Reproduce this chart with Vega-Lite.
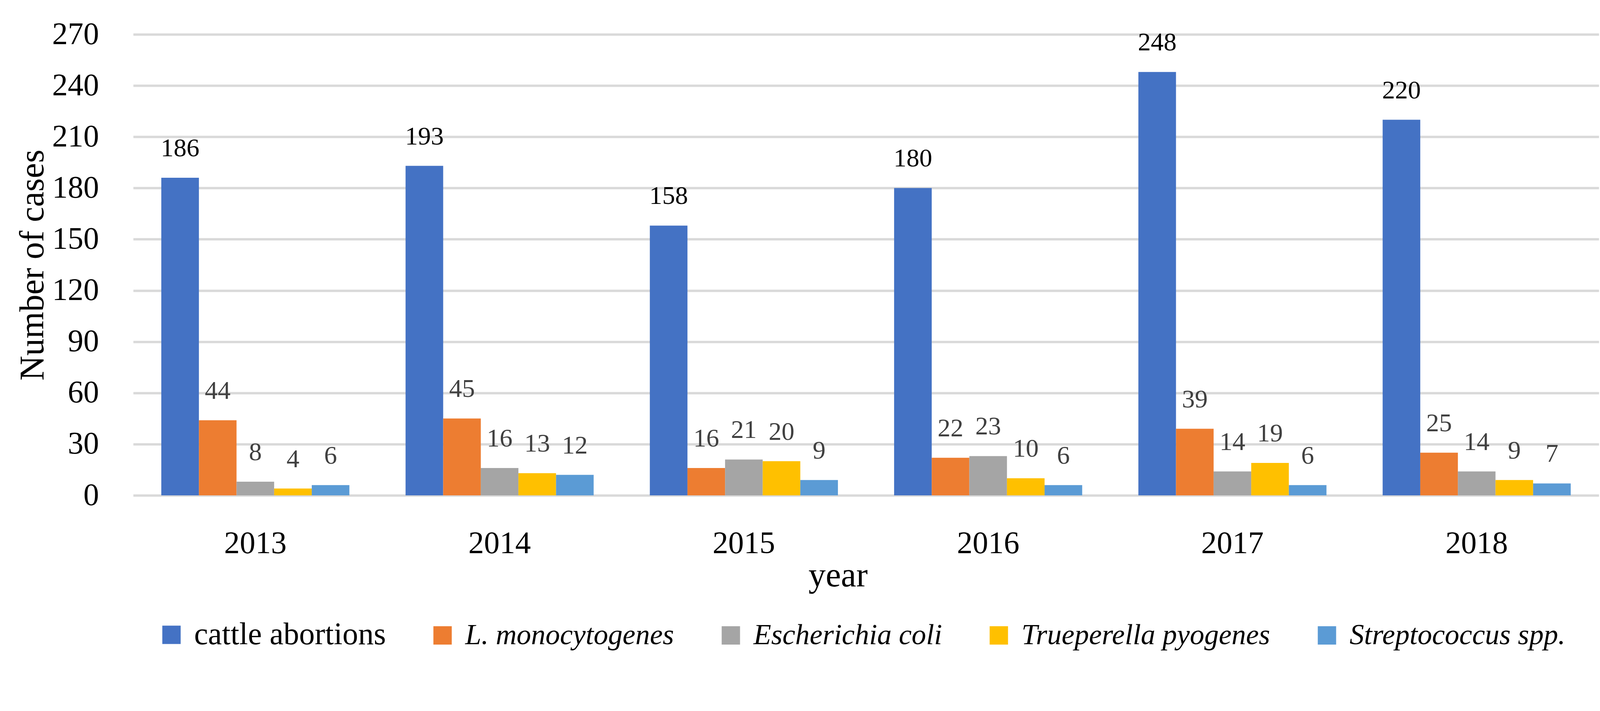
{
  "$schema": "https://vega.github.io/schema/vega-lite/v6.json",
  "autosize": {"type": "none"},
  "width": 3752,
  "height": 1180,
  "padding": {"left": 341, "top": 88, "right": 111, "bottom": 552},
  "background": "white",
  "config": {
    "view": {"stroke": null},
    "font": "Liberation Serif",
    "axis": {"labelFont": "Liberation Serif", "titleFont": "Liberation Serif", "labelColor": "black", "titleColor": "black", "titleFontWeight": "normal"}
  },
  "data": {
    "values": [
      {"year": "2013", "series": "cattle abortions", "value": 186},
      {"year": "2013", "series": "L. monocytogenes", "value": 44},
      {"year": "2013", "series": "Escherichia coli", "value": 8},
      {"year": "2013", "series": "Trueperella pyogenes", "value": 4},
      {"year": "2013", "series": "Streptococcus spp.", "value": 6},
      {"year": "2014", "series": "cattle abortions", "value": 193},
      {"year": "2014", "series": "L. monocytogenes", "value": 45},
      {"year": "2014", "series": "Escherichia coli", "value": 16},
      {"year": "2014", "series": "Trueperella pyogenes", "value": 13},
      {"year": "2014", "series": "Streptococcus spp.", "value": 12},
      {"year": "2015", "series": "cattle abortions", "value": 158},
      {"year": "2015", "series": "L. monocytogenes", "value": 16},
      {"year": "2015", "series": "Escherichia coli", "value": 21},
      {"year": "2015", "series": "Trueperella pyogenes", "value": 20},
      {"year": "2015", "series": "Streptococcus spp.", "value": 9},
      {"year": "2016", "series": "cattle abortions", "value": 180},
      {"year": "2016", "series": "L. monocytogenes", "value": 22},
      {"year": "2016", "series": "Escherichia coli", "value": 23},
      {"year": "2016", "series": "Trueperella pyogenes", "value": 10},
      {"year": "2016", "series": "Streptococcus spp.", "value": 6},
      {"year": "2017", "series": "cattle abortions", "value": 248},
      {"year": "2017", "series": "L. monocytogenes", "value": 39},
      {"year": "2017", "series": "Escherichia coli", "value": 14},
      {"year": "2017", "series": "Trueperella pyogenes", "value": 19},
      {"year": "2017", "series": "Streptococcus spp.", "value": 6},
      {"year": "2018", "series": "cattle abortions", "value": 220},
      {"year": "2018", "series": "L. monocytogenes", "value": 25},
      {"year": "2018", "series": "Escherichia coli", "value": 14},
      {"year": "2018", "series": "Trueperella pyogenes", "value": 9},
      {"year": "2018", "series": "Streptococcus spp.", "value": 7}
    ]
  },
  "encoding": {
    "x": {
      "field": "year", "type": "nominal",
      "scale": {"paddingInner": 0.23, "paddingOuter": 0.115},
      "axis": {
        "title": "year", "titleFontSize": 88, "titleX": 1804, "titleY": 232, "titleBaseline": "alphabetic", "titleAnchor": null,
        "labelFontSize": 80, "labelAngle": 0, "labelBaseline": "alphabetic", "labelPadding": 147,
        "ticks": false, "tickSize": 0, "domain": false, "grid": false
      }
    },
    "xOffset": {
      "field": "series", "type": "nominal",
      "scale": {"domain": ["cattle abortions", "L. monocytogenes", "Escherichia coli", "Trueperella pyogenes", "Streptococcus spp."], "paddingInner": 0, "paddingOuter": 0}
    },
    "y": {
      "field": "value", "type": "quantitative",
      "scale": {"domain": [0, 270], "nice": false},
      "axis": {
        "title": "Number of cases", "titleFontSize": 88, "titleX": -257, "titleY": 590, "titleAngle": -90, "titleBaseline": "middle", "titleAnchor": null,
        "values": [0, 30, 60, 90, 120, 150, 180, 210, 240, 270],
        "labelFontSize": 80, "labelPadding": 88, "ticks": false, "tickSize": 0, "domain": false,
        "grid": true, "gridColor": "#D9D9D9", "gridWidth": 6
      }
    }
  },
  "layer": [
    {
      "mark": {"type": "bar"},
      "encoding": {
        "color": {
          "field": "series", "type": "nominal",
          "scale": {
            "domain": ["cattle abortions", "L. monocytogenes", "Escherichia coli", "Trueperella pyogenes", "Streptococcus spp."],
            "range": ["#4472C4", "#ED7D31", "#A5A5A5", "#FFC000", "#5B9BD5"]
          },
          "legend": {
            "title": null, "orient": "none", "legendX": 61, "legendY": 1500,
            "direction": "horizontal", "columns": 5, "columnPadding": 108,
            "symbolType": "square", "symbolSize": 2209, "symbolStrokeWidth": 0, "symbolOpacity": 1,
            "labelFont": "Liberation Serif", "labelFontSize": 80, "labelColor": "black", "labelOffset": 21, "labelLimit": 2000,
            "encode": {"labels": {"update": {
              "fontStyle": {"signal": "datum.label == 'cattle abortions' ? 'normal' : 'italic'"},
              "fontSize": {"signal": "datum.label == 'cattle abortions' ? 80 : 74"}
            }}}
          }
        }
      }
    },
    {
      "mark": {"type": "text", "baseline": "alphabetic", "dy": -55, "fontSize": 66, "font": "Liberation Serif"},
      "encoding": {
        "text": {"field": "value", "type": "quantitative"},
        "color": {"condition": {"test": "datum.series == 'cattle abortions'", "value": "#000000"}, "value": "#404040"}
      }
    }
  ]
}
